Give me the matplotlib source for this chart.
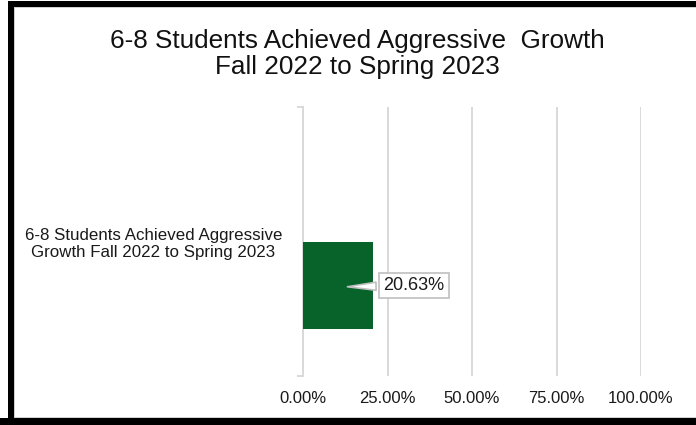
import matplotlib
matplotlib.use("Agg")
import matplotlib.pyplot as plt
from matplotlib.patches import Rectangle

plt.rcParams['font.family'] = ['Liberation Sans', 'DejaVu Sans']

# data
title = "6-8 Students Achieved Aggressive  Growth\nFall 2022 to Spring 2023"
categories = ["6-8 Students Achieved Aggressive\nGrowth Fall 2022 to Spring 2023"]
values = [20.63]
xticks = [0, 25, 50, 75, 100]

green = "#07632a"
grid_col = "#d9d9d9"

fig = plt.figure(figsize=(6.96, 4.25), dpi=100)
ax = fig.add_axes([303 / 696, 49 / 425, 338 / 696, 269 / 425])

# the bar sits in the lower slot of the category (two-slot cluster, first slot empty)
slot = 0.327
ypos = [i + slot / 2 for i in range(len(values))]
ax.barh(ypos, values, height=slot, color=green, zorder=3)

ax.set_xlim(0, 100)
ax.set_ylim(0.5, -0.5)
ax.set_xticks(xticks)
ax.set_xticklabels([f"{t:.2f}%" for t in xticks], fontsize=12, color="#1a1a1a")
ax.tick_params(axis='x', length=0, pad=11)
ax.xaxis.grid(True, color=grid_col, lw=1.4)
ax.set_axisbelow(True)

ax.set_yticks([-0.5, 0.5], minor=True)
ax.set_yticks(range(len(categories)))
ax.set_yticklabels(categories, fontsize=12.2, color="#1a1a1a", multialignment='center',
                   linespacing=1.2)
ax.tick_params(axis='y', which='major', length=0, pad=15)
ax.tick_params(axis='y', which='minor', length=4, color=grid_col, width=1.4)

for s in ['top', 'right', 'bottom']:
    ax.spines[s].set_visible(False)
ax.spines['left'].set_color(grid_col)
ax.spines['left'].set_linewidth(1.4)

# data label callout
for y, v in zip(ypos, values):
    ax.annotate(f"{v:.2f}%", xy=(v / 2 + 2, y + 0.005), xytext=(v + 12.2, y),
                fontsize=13, color="#1a1a1a", va='center', ha='center',
                bbox=dict(boxstyle="square,pad=0.22", fc="white", ec="#bfbfbf", lw=1.2),
                arrowprops=dict(arrowstyle="wedge,tail_width=0.45", fc="white", ec="#bfbfbf", lw=1.2),
                zorder=4)

fig.text(357 / 696, 1 - 54 / 425, title, fontsize=18.8, ha='center', va='center',
         linespacing=1.13, color="#111111")

# frame around the chart
W, H = 696, 425
def box(x0, y0, x1, y1, c):
    fig.add_artist(Rectangle((x0 / W, 1 - y1 / H), (x1 - x0) / W, (y1 - y0) / H,
                             transform=fig.transFigure, fc=c, ec='none', zorder=10))

box(8, 1, W, 7, "black")
box(8, 1, 14, H, "black")
box(0, 418, W, H, "black")
box(14, 7, W, 8, "#d0d0d0")
box(14, 7, 15, 418, "#d0d0d0")
box(14, 417, W, 418, "#d0d0d0")

fig.savefig("out.png", dpi=100)
